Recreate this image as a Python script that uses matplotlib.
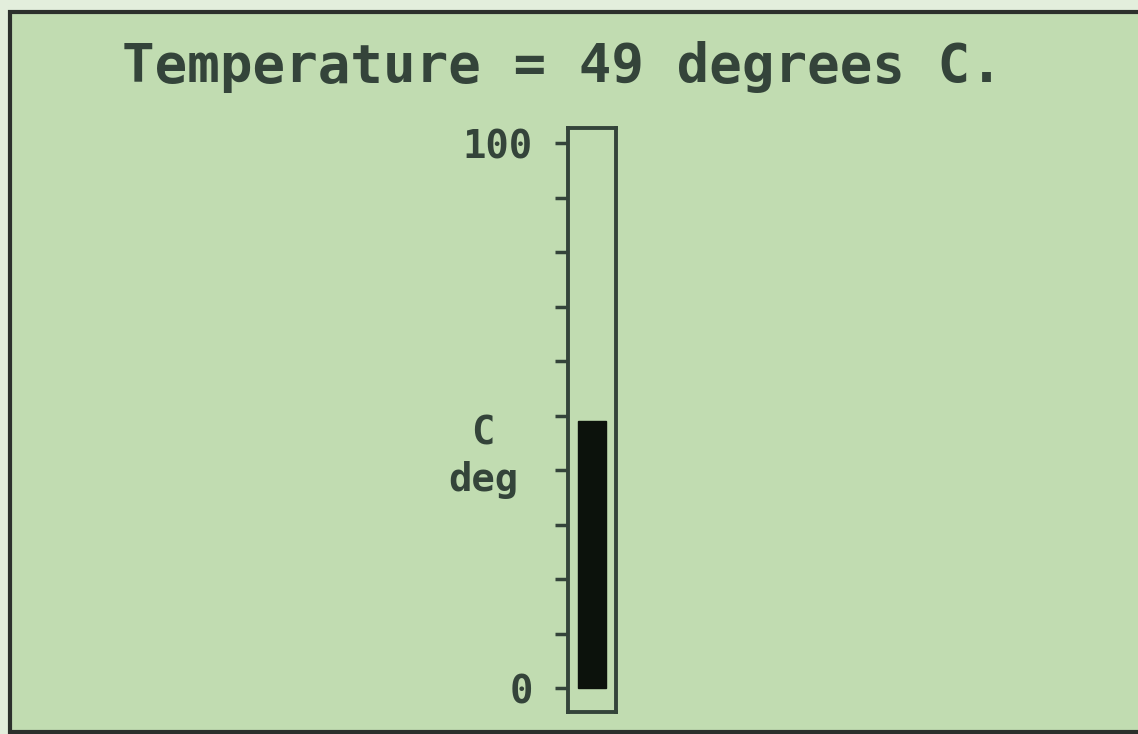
import numpy as np
import matplotlib.pyplot as plt
from matplotlib.patches import Rectangle

temperature = 49
tick_values = list(range(0, 101, 10))
tick_labels = ["0", "", "", "", "", "", "", "", "", "", "100"]
title_text = "Temperature = %d degrees C." % temperature
units_label = "C\ndeg"

screen_bg = "#c1dcb1"
ink = "#34443a"
fill_col = "#0c120c"

fig = plt.figure(figsize=(11.38, 7.34), dpi=100)
fig.patch.set_facecolor("#e3eedc")

# screen area with dark frame
screen = Rectangle((10 / 1138, 2 / 734), 1.0, 720 / 734, transform=fig.transFigure,
                   facecolor=screen_bg, edgecolor="#2c302c", linewidth=3, zorder=-5)
fig.patches.append(screen)

fig.text(0.494, 0.909, title_text, ha="center", va="center", fontsize=39,
         family="DejaVu Sans Mono", fontweight="bold", color=ink)

# thermometer tube
ax = fig.add_axes([568 / 1138, 22 / 734, 48 / 1138, 584 / 734])
ax.set_zorder(2)
ax.set_facecolor(screen_bg)
ax.bar([0], [temperature], width=0.58, color=fill_col, edgecolor=fill_col)
ax.set_xlim(-0.5, 0.5)
ax.set_ylim(-4.4, 102.8)
ax.set_xticks([])
ax.set_yticks(tick_values)
ax.set_yticklabels(tick_labels)
ax.tick_params(axis="y", direction="out", length=9.5, width=2.5, color=ink,
               pad=16, labelsize=28, labelcolor=ink)
for lab in ax.get_yticklabels():
    lab.set_family("DejaVu Sans Mono")
    lab.set_fontweight("bold")
for sp in ax.spines.values():
    sp.set_color(ink)
    sp.set_linewidth(2.8)

ax.set_ylabel(units_label, rotation=0, fontsize=28, family="DejaVu Sans Mono",
              fontweight="bold", color=ink, linespacing=1.3, ha="center", va="center")
ax.yaxis.set_label_coords(-1.77, 0.437)

fig.savefig("out.png", dpi=100, facecolor=fig.get_facecolor())
